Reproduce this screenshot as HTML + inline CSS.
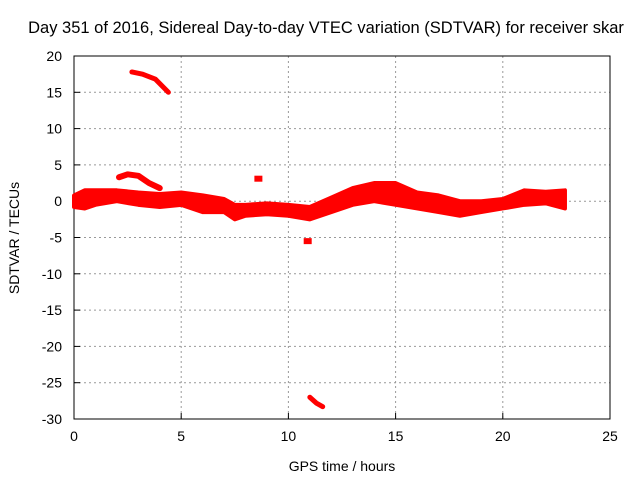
<!DOCTYPE html>
<html><head><meta charset="utf-8"><style>
body{margin:0;background:#fff}
svg text{font-family:"Liberation Sans",sans-serif;font-size:14px;fill:#000}
</style></head><body>
<svg id="c" width="640" height="480"></svg>
<script>
const times=[0,0.5,1,2,3,4,5,6,7,7.5,8,9,10,11,12,13,14,15,16,17,18,19,20,21,22,22.9];
const upper=[0.8,1.5,1.5,1.5,1.2,1,1.2,0.8,0.3,-0.5,-0.5,-0.3,-0.5,-0.8,0.5,1.8,2.5,2.5,1.2,0.8,0,0,0.3,1.5,1.3,1.5];
const lower=[-0.8,-1,-0.5,0,-0.5,-0.8,-0.5,-1.5,-1.5,-2.5,-2,-1.8,-2,-2.5,-1.5,-0.5,0,-0.5,-1,-1.5,-2,-1.5,-1,-0.5,-0.3,-1];
const arcTimes=[2.1,2.5,3,3.5,4];
const arcValues=[3.3,3.7,3.5,2.5,1.8];
const outlierA_t=[2.7,3.2,3.8,4.4];
const outlierA_v=[17.8,17.5,16.8,15];
const outlierB_t=[11.0,11.3,11.6];
const outlierB_v=[-27,-27.8,-28.3];
const blobs_t=[8.6,10.9];
const blobs_v=[3.1,-5.5];
const xTicks=[0,5,10,15,20,25];
const yTicks=[20,15,10,5,0,-5,-10,-15,-20,-25,-30];
const L=74,R=610,T=56,B=419,X0=0,X1=25,Y0=-30,Y1=20;
const sx=t=>L+(t-X0)/(X1-X0)*(R-L);
const sy=v=>B-(v-Y0)/(Y1-Y0)*(B-T);
const svg=document.getElementById('c');const NS='http://www.w3.org/2000/svg';
function mk(tag,attrs,parent){const e=document.createElementNS(NS,tag);for(const k in attrs)e.setAttribute(k,attrs[k]);(parent||svg).appendChild(e);return e;}
xTicks.forEach(t=>{
 if(t>X0&&t<X1){const g=mk('line',{x1:sx(t),x2:sx(t),y1:T,y2:B,stroke:'#999','stroke-dasharray':'2,3'});
 
 }
 const tk=mk('line',{x1:sx(t),x2:sx(t),y1:B,y2:B-6,stroke:'#000'});
 
 
 const tx=mk('text',{x:sx(t),y:B+22,'text-anchor':'middle'});tx.textContent=t;
 
 
});
yTicks.forEach(v=>{
 if(v>Y0&&v<Y1){const g=mk('line',{x1:L,x2:R,y1:sy(v),y2:sy(v),stroke:'#999','stroke-dasharray':'2,3'});
 
 }
 const tk=mk('line',{x1:L,x2:L+6,y1:sy(v),y2:sy(v),stroke:'#000'});
 
 
 const tx=mk('text',{x:L-12,y:sy(v)+5,'text-anchor':'end'});tx.textContent=v;
 
 
});
const fr=mk('rect',{x:L,y:T,width:R-L,height:B-T,fill:'none',stroke:'#000'});


let pts=times.map((t,i)=>sx(t)+','+sy(upper[i]));
for(let i=times.length-1;i>=0;i--)pts.push(sx(times[i])+','+sy(lower[i]));
const band=mk('polygon',{points:pts.join(' '),fill:'#f00',stroke:'#f00','stroke-width':4,'stroke-linejoin':'round'});


function line(ts,vs,name,w){const p=mk('polyline',{points:ts.map((t,i)=>sx(t)+','+sy(vs[i])).join(' '),fill:'none',stroke:'#f00','stroke-width':w,'stroke-linecap':'round','stroke-linejoin':'round'});
 
 }
line(arcTimes,arcValues,'sdtvar-upper-arc',6);
line(outlierA_t,outlierA_v,'sdtvar-outlier-high',5);
line(outlierB_t,outlierB_v,'sdtvar-outlier-low',5);
blobs_t.forEach((t,i)=>{const c=mk('rect',{x:sx(t)-4,y:sy(blobs_v[i])-3,width:8,height:6,fill:'#f00'});
 
 });
const ttl=mk('text',{x:326,y:33,'text-anchor':'middle','font-size':'16.5px',style:'font-size:16.5px'});ttl.textContent='Day 351 of 2016, Sidereal Day-to-day VTEC variation (SDTVAR) for receiver skar';


const xt=mk('text',{x:342,y:471,'text-anchor':'middle'});xt.textContent='GPS time / hours';


const yt=mk('text',{x:0,y:0,'text-anchor':'middle',transform:'translate(19,238) rotate(-90)'});yt.textContent='SDTVAR / TECUs';


</script>
</body></html>
